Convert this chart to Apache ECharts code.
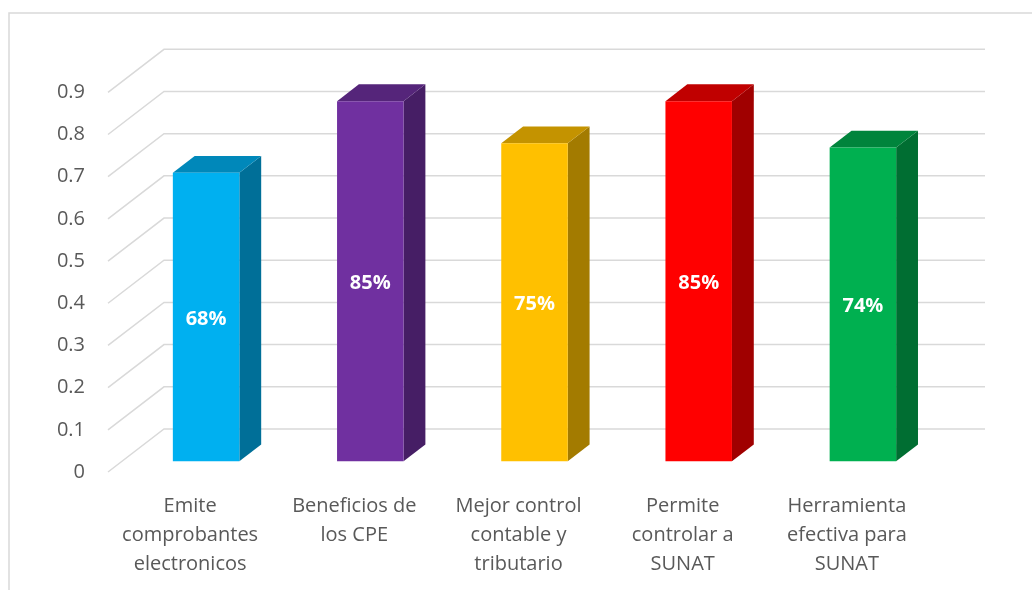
<!DOCTYPE html>
<html>
<head>
<meta charset="utf-8">
<script src="https://cdn.jsdelivr.net/npm/echarts@6/dist/echarts.min.js"></script>
<style>html,body{margin:0;padding:0;background:#fff}#c{width:1032px;height:590px}</style>
</head>
<body>
<div id="c"></div>
<script>
var categories = ['Emite\ncomprobantes\nelectronicos', 'Beneficios de\nlos CPE', 'Mejor control\ncontable y\ntributario', 'Permite\ncontrolar a\nSUNAT', 'Herramienta\nefectiva para\nSUNAT'];
var values = [0.68, 0.85, 0.75, 0.85, 0.74];
var labels = ['68%', '85%', '75%', '85%', '74%'];
var ticks = [0, 0.1, 0.2, 0.3, 0.4, 0.5, 0.6, 0.7, 0.8, 0.9];
var frontColors = ['#00B0F0', '#7030A0', '#FFC000', '#FF0000', '#00B050'];
var topColors = ['#0088BA', '#55257A', '#C49300', '#C00000', '#00843C'];
var sideColors = ['#006F98', '#461E65', '#A37B00', '#A00000', '#006E32'];

var DX = 56, DY = 43, D1 = 0.25, D2 = 0.64;
var FONT = '"Open Sans", "Liberation Sans", sans-serif';

var chart = echarts.init(document.getElementById('c'));
chart.setOption({
  animation: false,
  grid: { left: 108, right: 103, top: 92.3, bottom: 118 },
  graphic: [{
    type: 'rect', shape: { x: 9, y: 13, width: 1100, height: 700 },
    style: { fill: 'none', stroke: '#D9D9D9', lineWidth: 1.5 }, silent: true, z: -10
  }],
  xAxis: {
    type: 'category', data: categories, boundaryGap: true,
    axisLine: { show: false }, axisTick: { show: false }, splitLine: { show: false },
    axisLabel: { interval: 0, color: '#595959', fontSize: 20, lineHeight: 29, margin: 20, fontFamily: FONT }
  },
  yAxis: {
    type: 'value', min: 0, max: 0.9, interval: 0.1,
    axisLine: { show: false }, axisTick: { show: false }, splitLine: { show: false },
    axisLabel: { color: '#595959', fontSize: 20, margin: 23, fontFamily: FONT,
      formatter: function (v) { return String(Math.round(v * 10) / 10); } }
  },
  series: [{
    type: 'custom', z: 1, clip: false,
    data: ticks.map(function (t) { return [0, t]; }),
    renderItem: function (params, api) {
      var p = api.coord([0, api.value(1)]);
      var w = api.size([1, 0])[0];
      var x0 = p[0] - w / 2;
      var xr = api.coord([categories.length - 1, 0])[0] + w / 2 + DX;
      return {
        type: 'polyline',
        shape: { points: [[x0, p[1]], [x0 + DX, p[1] - DY], [xr, p[1] - DY]] },
        style: { stroke: '#D9D9D9', lineWidth: 1.5, fill: null }
      };
    }
  }, {
    type: 'custom', z: 2, clip: false,
    data: values.map(function (v, i) { return [i, v]; }),
    renderItem: function (params, api) {
      var i = api.value(0);
      var top = api.coord([i, api.value(1)]);
      var bot = api.coord([i, 0]);
      var bw = api.size([1, 0])[0] * 0.405;
      var cx = top[0] + D1 * DX + 2;
      var xl = cx - bw / 2, xr = cx + bw / 2;
      var yt = top[1] - D1 * DY - 1.5, yb = bot[1] - D1 * DY;
      var dx = (D2 - D1) * DX, dy = (D2 - D1) * DY;
      return {
        type: 'group',
        children: [{
          type: 'polygon',
          shape: { points: [[xr, yt], [xr, yb], [xr + dx, yb - dy], [xr + dx, yt - dy]] },
          style: { fill: sideColors[i] }
        }, {
          type: 'polygon',
          shape: { points: [[xl, yt], [xr, yt], [xr + dx, yt - dy], [xl + dx, yt - dy]] },
          style: { fill: topColors[i] }
        }, {
          type: 'rect',
          shape: { x: xl, y: yt, width: bw, height: yb - yt },
          style: { fill: frontColors[i] }
        }, {
          type: 'text',
          style: { text: labels[i], x: cx, y: (yt + yb) / 2 + 2, align: 'center', verticalAlign: 'middle',
            fill: '#FFFFFF', fontSize: 20, fontWeight: 'bold', fontFamily: FONT }
        }]
      };
    }
  }]
});
</script>
</body>
</html>
